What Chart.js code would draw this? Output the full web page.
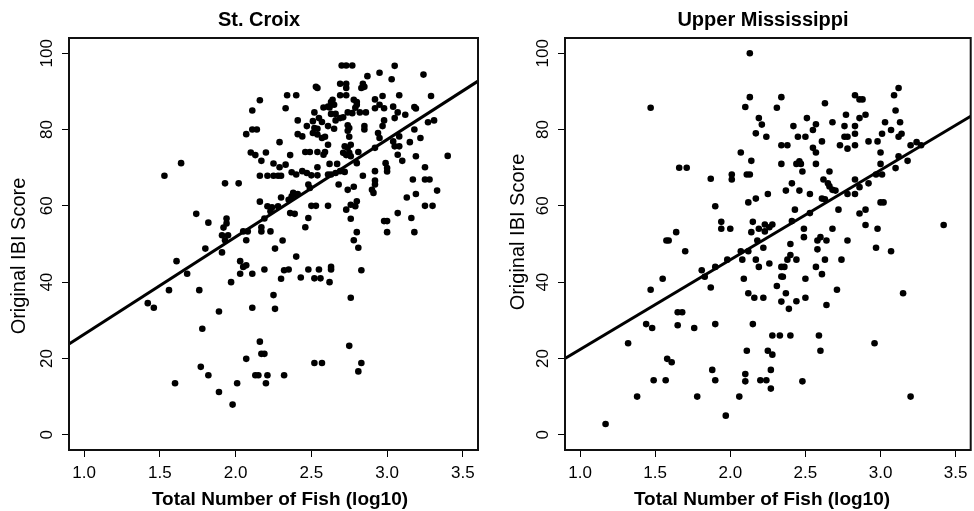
<!DOCTYPE html>
<html>
<head>
<meta charset="utf-8">
<script src="https://cdn.jsdelivr.net/npm/chart.js@4.4.1/dist/chart.umd.min.js"></script>
<style>
  html, body { margin: 0; padding: 0; background: #fff; }
  #wrap { position: relative; width: 974px; height: 511px; }
  .panel { position: absolute; top: 0; width: 487px; height: 511px; }
</style>
</head>
<body>
<div id="wrap">
  <div class="panel" style="left:0"><canvas id="stCroix" width="487" height="511"></canvas></div>
  <div class="panel" style="left:487px"><canvas id="upperMiss" width="487" height="511"></canvas></div>
</div>
<script>
// axis ranges and tick labels
const xRange = [0.9, 3.6];
const yRange = [-4, 104];
const xTicks = [1.0, 1.5, 2.0, 2.5, 3.0, 3.5];
const yTicks = [0, 20, 40, 60, 80, 100];

// St. Croix: log10 total fish vs original IBI score
const stCroixLogFish = [
  1.53, 1.64, 2.16, 2.11, 2.34, 2.33, 2.11, 2.14, 2.07, 2.29, 2.10, 2.13, 2.20, 2.17, 2.25, 2.29, 2.33,
  2.16, 2.21, 2.25, 2.28, 2.30, 1.93, 2.02, 2.30, 2.16, 2.21, 2.24, 2.28, 2.23, 1.74, 1.82, 1.94, 1.94,
  1.92, 2.19, 2.17, 2.17, 2.23, 2.05, 2.08, 1.91, 1.95,
  1.93, 2.07, 2.31, 1.80, 1.91, 2.26, 1.61, 2.03, 2.05, 2.07, 2.19, 2.32, 2.35, 1.68, 2.03, 2.11, 2.30,
  1.97, 1.56, 1.76, 2.25, 1.42, 1.46, 2.11, 2.26, 1.89, 1.78, 2.16, 2.17, 2.19, 2.07, 1.77, 1.82, 2.13,
  2.15, 2.21, 2.32, 1.60, 2.01, 2.20, 1.89, 1.98,
  2.78, 2.81, 2.40, 2.48, 2.55, 2.63, 2.63, 2.83, 2.43, 2.52, 2.56, 2.62, 2.76, 2.75, 2.52, 2.57, 2.83, 2.81,
  2.70, 2.73, 2.77, 3.05, 3.24, 2.95, 2.87, 3.03, 2.69, 2.73, 2.73, 2.84, 2.85, 2.83, 2.53, 2.54, 2.40,
  2.69, 2.73, 2.97, 3.08, 3.29, 2.64, 2.63, 2.65, 2.62, 2.58, 2.61, 2.78, 2.80, 2.80, 2.79, 2.92, 2.95,
  2.98, 2.92, 3.04, 3.18, 3.19, 2.52, 2.63, 2.66, 2.74, 2.77, 2.82, 2.86, 3.07, 3.12, 3.05, 2.41, 2.51,
  2.55, 2.57, 2.66, 2.69, 2.71, 2.98, 3.27, 3.31, 2.47, 2.52, 2.54, 2.61, 2.65, 2.74, 2.75, 2.74, 2.85,
  2.85, 2.97, 3.18, 2.41, 2.44, 2.51, 2.54, 2.57, 2.59, 2.75, 2.94, 2.95, 3.08, 3.22, 2.61, 2.72, 2.74,
  2.76, 2.92, 3.04, 3.05, 3.08, 3.15, 2.46, 2.49, 2.54, 2.58, 2.59, 2.71, 2.73, 2.75, 2.76, 2.81, 2.36,
  3.07, 3.10, 3.19, 3.40, 2.80, 2.62, 2.67, 2.99, 3.00, 3.00, 2.54, 3.25, 2.37, 2.40, 2.44, 2.47, 2.50,
  2.54, 2.61, 2.63, 2.66, 2.69, 2.72, 2.84, 2.92, 3.25, 3.28, 3.17, 2.68, 2.78, 2.92, 2.92, 2.90, 2.91,
  2.74, 3.33, 3.19, 3.13, 2.48, 2.49, 2.38, 2.41, 2.37, 2.40, 2.35, 2.80, 2.76, 2.79, 2.73, 2.50, 2.53,
  2.61, 3.25, 3.30, 2.36, 2.39, 3.07, 2.48, 2.76, 3.16, 2.46, 2.98, 3.00, 2.80, 3.00, 3.18
];
const stCroixIBI = [
  67.9, 71.2, 87.7, 85.0, 89.0, 85.6, 80.0, 80.0, 78.8, 76.7, 74.0, 73.3, 74.0, 71.8, 71.1, 70.1, 70.8,
  67.9, 67.9, 67.9, 67.9, 67.9, 65.9, 65.9, 62.2, 61.1, 59.9, 59.6, 59.9, 58.6, 57.9, 55.6, 56.7, 55.4,
  54.3, 56.7, 54.4, 53.3, 53.3, 53.3, 53.3, 52.3, 52.3,
  51.0, 51.0, 50.9, 48.8, 47.8, 48.8, 45.5, 45.5, 44.0, 44.4, 43.3, 43.1, 43.3, 42.2, 42.2, 42.2, 40.9,
  40.0, 37.9, 37.9, 36.6, 34.5, 33.3, 33.3, 33.0, 32.3, 27.8, 24.4, 21.2, 21.2, 19.9, 17.8, 15.6, 15.6,
  15.6, 15.6, 15.6, 13.5, 13.5, 13.5, 11.2, 7.9,
  51.0, 49.0, 46.7, 43.3, 43.3, 44.0, 43.3, 43.1, 41.2, 41.0, 41.0, 40.0, 35.9, 23.3, 18.8, 18.8, 18.8, 16.6,
  96.8, 96.8, 96.8, 96.7, 94.4, 94.9, 94.0, 93.2, 92.0, 92.0, 90.9, 92.0, 91.2, 90.9, 91.2, 90.9, 89.0,
  89.0, 89.0, 88.8, 89.0, 88.8, 87.8, 87.2, 86.5, 85.8, 85.8, 86.0, 87.8, 87.2, 86.5, 85.7, 87.9, 86.5,
  85.6, 85.6, 86.0, 85.9, 85.5, 84.5, 84.1, 84.1, 84.5, 84.3, 84.5, 84.5, 84.5, 83.9, 83.0, 82.4, 82.2,
  83.0, 82.0, 82.4, 83.0, 83.2, 82.4, 81.9, 82.4, 80.9, 80.4, 80.2, 80.9, 80.2, 81.1, 80.4, 79.7, 80.9,
  80.0, 80.9, 80.0, 78.8, 78.2, 79.1, 78.7, 77.8, 78.1, 78.1, 79.1, 77.8, 78.2, 77.8, 76.0, 75.6, 75.2,
  76.0, 75.2, 76.9, 75.6, 75.6, 76.7, 74.1, 74.1, 74.1, 73.4, 74.1, 73.9, 73.3, 73.9, 73.0, 74.1, 73.3,
  73.4, 71.8, 73.0, 73.1, 71.2, 71.0, 71.0, 71.2, 69.9, 69.0, 70.1, 70.1, 68.8, 68.2, 69.1, 68.6, 68.0,
  68.0, 68.2, 68.2, 68.6, 69.1, 68.9, 67.9, 69.1, 66.9, 66.9, 66.9, 65.6, 65.0, 66.6, 65.6, 64.2, 63.4,
  64.2, 64.0, 63.1, 62.2, 65.6, 64.7, 63.4, 63.1, 62.5, 62.9, 61.6, 61.2, 60.3, 59.9, 59.0, 60.0, 60.0,
  60.0, 60.0, 60.0, 58.1, 57.9, 58.1, 56.8, 56.6, 56.8, 54.4, 56.0, 56.0, 53.1, 53.1, 53.1
];
const stCroixFitX = [0.9, 3.6];
const stCroixFitY = [23.8, 92.7];

// Upper Mississippi
const upperMissLogFish = [
  2.13, 1.47, 2.13, 2.10, 2.31, 2.34, 2.19, 2.21, 2.17, 2.24, 2.34, 2.07, 2.14, 2.34, 1.66, 1.71, 2.01,
  2.01, 1.87, 2.11, 2.13, 2.25, 2.17, 2.12, 1.90, 1.94, 1.94, 2.00, 2.15, 2.19, 2.23, 2.26, 2.28, 2.14,
  2.23, 1.64,
  1.575, 1.59, 1.70, 2.07, 2.12, 2.18, 2.22, 1.98, 1.90, 1.81, 1.83, 2.08, 2.17, 2.19, 2.26, 2.34, 2.34,
  1.55, 1.47, 1.87, 2.09, 2.12, 2.16, 2.22, 2.31, 2.34, 1.65, 1.68, 1.44, 1.48, 1.65, 1.76, 1.90, 2.15,
  1.32, 2.28, 2.33, 2.11, 2.25, 2.28, 1.58, 1.61, 1.88, 2.10, 2.27, 1.49, 1.57, 1.90, 2.10, 2.20, 2.24,
  2.27, 1.38, 1.78, 2.06, 1.97, 1.17,
  3.12, 3.09, 2.83, 2.86, 2.88, 2.63, 3.10, 2.51, 2.77, 2.90, 2.86, 2.42, 2.57, 2.55, 2.68, 2.76, 2.83,
  3.03, 3.07, 3.13, 2.83, 3.01, 3.14, 3.12, 2.45, 2.50, 2.76, 2.78, 2.38, 2.55, 2.57, 2.61, 2.73, 2.78,
  2.83, 2.92, 2.98, 3.00, 3.20, 3.24, 3.27, 2.44, 2.46, 2.47, 2.57, 2.48, 2.66, 3.00, 3.12, 3.10, 3.18,
  2.41, 2.62, 2.65, 2.66, 2.68, 2.70, 2.83, 2.97, 3.01, 2.92, 2.86, 2.37, 2.46, 2.53, 2.78, 2.83, 2.61,
  2.63, 3.00, 3.02, 2.43, 2.72, 2.53, 2.86, 2.90, 2.41, 2.90, 2.98, 2.68, 2.49, 3.42,
  2.49, 2.60, 2.58, 2.64, 2.78, 2.40, 2.58, 2.97, 3.07, 2.40, 2.38, 2.44, 2.63, 2.74, 2.57, 2.36, 2.35,
  2.50, 2.61, 2.37, 2.71, 3.15, 2.44, 2.50, 2.39, 2.64, 2.40, 2.59, 2.60, 2.96, 2.48, 3.20
];
const upperMissIBI = [
  100.0, 85.7, 88.5, 85.9, 85.7, 88.5, 83.0, 81.3, 79.0, 78.1, 75.9, 74.0, 71.8, 71.0, 70.0, 70.0, 68.2,
  66.9, 67.1, 68.2, 68.2, 63.1, 61.9, 60.9, 59.9, 55.8, 54.0, 54.0, 55.8, 54.0, 55.1, 54.4, 55.1, 53.1,
  53.3, 53.1,
  50.9, 50.9, 48.1, 48.1, 48.1, 50.9, 49.0, 45.9, 44.0, 43.1, 41.4, 45.9, 45.9, 44.0, 44.9, 44.0, 41.5,
  40.9, 38.0, 38.6, 40.9, 37.1, 35.9, 35.9, 39.0, 34.9, 32.1, 32.1, 29.0, 28.0, 28.7, 28.0, 29.0, 29.0,
  24.0, 26.0, 26.0, 22.0, 22.0, 21.0, 19.9, 19.0, 17.0, 15.9, 17.0, 14.3, 14.3, 14.3, 14.0, 14.3, 14.3,
  12.1, 10.0, 10.0, 10.0, 5.0, 2.8,
  90.9, 89.0, 89.0, 87.9, 87.9, 86.9, 85.0, 83.0, 83.9, 83.9, 83.0, 80.9, 81.4, 79.9, 81.9, 80.9, 80.9,
  81.9, 79.9, 81.9, 78.9, 78.9, 78.9, 78.1, 78.1, 78.1, 78.1, 78.1, 75.9, 75.2, 74.0, 76.9, 75.9, 75.0,
  75.9, 76.9, 76.9, 74.0, 75.9, 76.7, 75.9, 71.0, 71.7, 71.0, 71.0, 69.0, 69.0, 71.0, 73.0, 69.9, 71.8,
  65.9, 66.9, 65.9, 65.1, 64.2, 64.0, 66.9, 68.2, 68.2, 65.9, 64.9, 64.0, 64.0, 63.1, 63.1, 63.1, 61.9,
  61.7, 60.9, 60.9, 59.0, 59.0, 58.1, 58.0, 59.0, 56.0, 55.0, 54.0, 54.0, 54.0, 55.0,
  51.8, 51.8, 50.9, 50.9, 50.9, 50.0, 48.6, 49.0, 48.1, 47.1, 45.9, 45.9, 45.9, 45.9, 44.0, 44.0, 41.4,
  40.9, 42.1, 37.1, 38.0, 37.1, 35.0, 35.9, 33.0, 34.0, 26.0, 26.0, 22.0, 24.0, 14.0, 10.0
];
const upperMissFitX = [0.9, 3.6];
const upperMissFitY = [20.0, 83.5];

const FONT = '"Liberation Sans", Arial, Helvetica, sans-serif';

function toPoints(xs, ys) {
  return xs.map((x, i) => ({ x: x, y: ys[i] }));
}

// titles and the box round the plot region (R style)
const panelText = {
  id: 'panelText',
  afterDraw(chart, args, opts) {
    const ctx = chart.ctx;
    const area = chart.chartArea;
    ctx.save();
    ctx.strokeStyle = '#111';
    ctx.lineWidth = 2;
    ctx.strokeRect(area.left, area.top, area.right - area.left, area.bottom - area.top);

    ctx.fillStyle = '#000';
    ctx.textAlign = 'center';
    ctx.textBaseline = 'middle';
    ctx.font = 'bold 20px ' + FONT;
    ctx.fillText(opts.title, opts.titleX, 20);
    ctx.font = 'bold 19px ' + FONT;
    ctx.fillText('Total Number of Fish (log10)', opts.xTitleX, 500);

    ctx.font = '20px ' + FONT;
    ctx.translate(opts.yTitleX, opts.yTitleY);
    ctx.rotate(-Math.PI / 2);
    ctx.fillText('Original IBI Score', 0, 0);
    ctx.restore();
  }
};

function makePanel(canvasId, title, xs, ys, fitX, fitY, pos) {
  return new Chart(document.getElementById(canvasId), {
    type: 'scatter',
    data: {
      datasets: [
        {
          data: toPoints(fitX, fitY),
          showLine: true,
          borderColor: '#000',
          borderWidth: 3,
          pointRadius: 0,
          fill: false
        },
        {
          data: toPoints(xs, ys),
          backgroundColor: '#000',
          borderWidth: 0,
          pointRadius: 3.3,
          pointHoverRadius: 3.3
        }
      ]
    },
    options: {
      responsive: false,
      animation: false,
      devicePixelRatio: 1,
      layout: { padding: { top: 38, right: pos.padRight, bottom: 0, left: 0 } },
      plugins: {
        legend: { display: false },
        tooltip: { enabled: false },
        title: { display: false },
        panelText: {
          title: title, titleX: pos.titleX, xTitleX: pos.xTitleX,
          yTitleX: pos.yTitleX, yTitleY: pos.yTitleY
        }
      },
      scales: {
        x: {
          type: 'linear',
          min: xRange[0],
          max: xRange[1],
          afterBuildTicks: (scale) => { scale.ticks = xTicks.map(v => ({ value: v })); },
          afterFit: (scale) => { scale.height = 61; },
          grid: { display: true, drawOnChartArea: false, drawTicks: true, tickLength: 7, color: '#000', lineWidth: 1 },
          border: { display: false },
          ticks: {
            autoSkip: false,
            maxRotation: 0,
            padding: 6,
            color: '#000',
            font: { family: FONT, size: 17 },
            callback: (v) => Number(v).toFixed(1)
          }
        },
        y: {
          type: 'linear',
          min: yRange[0],
          max: yRange[1],
          afterBuildTicks: (scale) => { scale.ticks = yTicks.map(v => ({ value: v })); },
          afterFit: (scale) => { scale.width = pos.yAxisWidth; },
          grid: { display: true, drawOnChartArea: false, drawTicks: true, tickLength: 7, color: '#000', lineWidth: 1 },
          border: { display: false },
          ticks: {
            autoSkip: false,
            minRotation: 90,
            maxRotation: 90,
            crossAlign: 'center',
            padding: 1,
            color: '#000',
            font: { family: FONT, size: 17 },
            callback: (v) => String(v)
          }
        }
      }
    },
    plugins: [panelText]
  });
}

makePanel('stCroix', 'St. Croix', stCroixLogFish, stCroixIBI, stCroixFitX, stCroixFitY,
  { padRight: 9, yAxisWidth: 69, titleX: 259, xTitleX: 280, yTitleX: 19.5, yTitleY: 256 });
makePanel('upperMiss', 'Upper Mississippi', upperMissLogFish, upperMissIBI, upperMissFitX, upperMissFitY,
  { padRight: 1, yAxisWidth: 78, titleX: 276, xTitleX: 275, yTitleX: 31, yTitleY: 232 });
</script>
</body>
</html>
